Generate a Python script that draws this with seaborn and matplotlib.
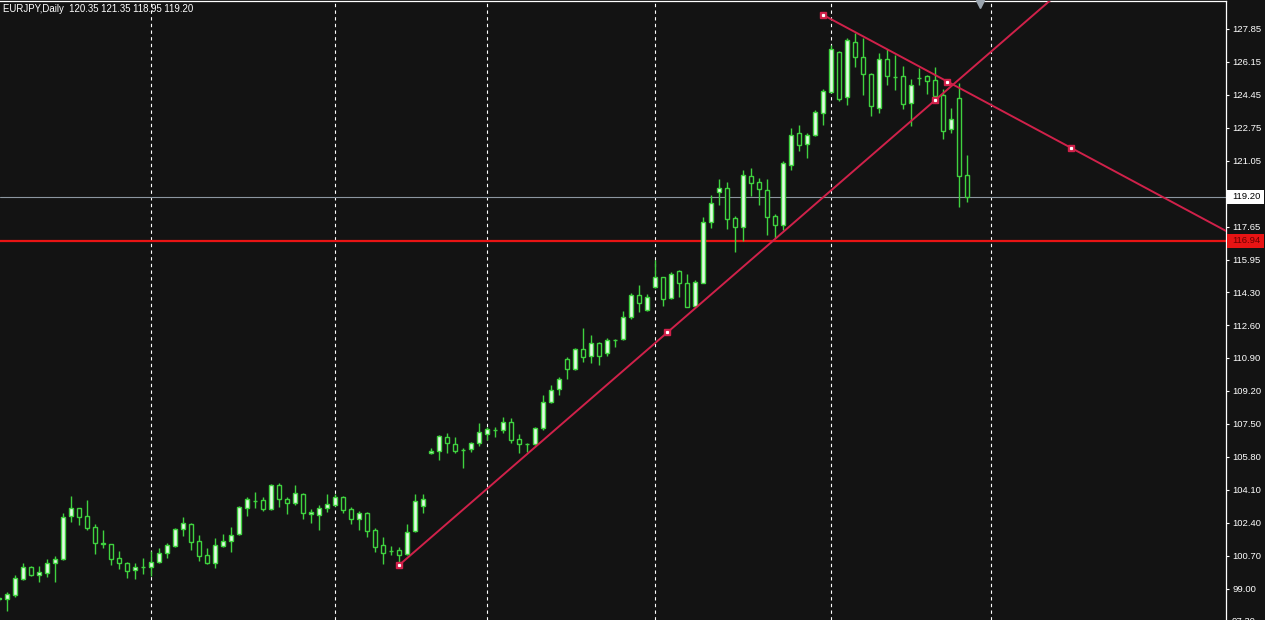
import numpy as np
import pandas as pd
import matplotlib
matplotlib.use("Agg")
import matplotlib.pyplot as plt
import seaborn as sns
from matplotlib.patches import Rectangle

# ---------------- data ----------------
symbol = "EURJPY,Daily"
opens = [98.50, 98.46, 98.69, 99.49, 100.11, 99.73, 99.84, 100.32, 100.56, 102.76,
         103.15, 102.76, 102.17, 101.37, 101.30, 100.58, 100.32, 99.97, 100.13, 100.11,
         100.40, 100.87, 101.23, 102.07, 102.35, 101.47, 100.75, 100.35, 101.23, 101.49,
         101.82, 103.16, 103.53, 103.58, 103.12, 104.36, 103.62, 103.41, 103.89, 102.85,
         102.81, 103.16, 103.33, 103.72, 103.10, 102.59, 102.93, 102.04, 101.27, 100.98,
         101.01, 100.80, 102.00, 103.28, 105.99, 106.13, 106.81, 106.45, 106.14, 106.20,
         106.50, 106.98, 107.18, 107.19, 107.62, 106.71, 106.46, 106.47, 107.28, 108.65,
         109.29, 110.83, 110.32, 111.35, 111.00, 111.69, 111.14, 111.82, 111.86, 112.99,
         114.15, 113.37, 114.54, 115.06, 113.97, 115.40, 114.78, 113.58, 114.78, 117.89,
         119.47, 119.64, 118.10, 117.63, 120.28, 119.99, 119.56, 118.22, 117.75, 120.84,
         122.51, 121.93, 122.39, 123.54, 124.62, 126.65, 124.36, 127.16, 126.39, 125.51,
         123.80, 126.29, 125.40, 125.43, 124.02, 125.35, 125.43, 125.22, 124.45, 122.68,
         124.28, 120.35]
highs = [98.60, 98.86, 99.72, 100.32, 100.18, 100.18, 100.52, 100.70, 102.94, 103.79,
         103.18, 103.58, 102.33, 102.04, 101.32, 100.97, 100.40, 100.32, 100.58, 100.97,
         101.09, 101.38, 102.12, 102.69, 102.41, 101.78, 101.09, 101.61, 101.83, 102.18,
         103.28, 103.72, 104.01, 103.72, 104.41, 104.48, 103.76, 104.36, 103.96, 103.10,
         103.33, 103.89, 103.89, 103.79, 103.24, 103.04, 102.98, 102.12, 101.66, 101.22,
         101.15, 102.35, 103.89, 103.89, 106.25, 106.93, 107.05, 106.85, 106.25, 106.59,
         107.57, 107.36, 107.36, 107.88, 107.79, 106.98, 106.54, 107.36, 108.99, 109.51,
         109.90, 110.93, 111.40, 112.43, 112.08, 111.74, 111.91, 111.86, 113.34, 114.27,
         114.66, 114.20, 115.95, 115.09, 115.35, 115.44, 115.23, 114.92, 118.18, 119.30,
         120.11, 119.99, 118.22, 120.59, 120.67, 120.16, 120.11, 118.32, 121.07, 122.73,
         122.90, 122.51, 123.70, 124.74, 127.03, 126.73, 127.37, 127.63, 127.37, 125.57,
         126.63, 126.80, 126.51, 125.94, 125.26, 125.82, 125.48, 125.88, 124.74, 123.76,
         125.09, 121.35]
lows = [98.40, 97.88, 98.60, 99.46, 99.67, 99.37, 99.63, 99.37, 100.49, 102.46,
        102.29, 102.04, 100.80, 101.09, 100.23, 100.01, 99.54, 99.51, 99.77, 99.67,
        100.32, 100.61, 101.18, 101.73, 101.01, 100.44, 100.30, 100.06, 101.15, 100.92,
        101.76, 102.76, 103.16, 103.04, 103.07, 103.21, 102.86, 103.33, 102.59, 102.42,
        102.04, 102.98, 103.28, 102.90, 102.35, 102.04, 101.70, 100.92, 100.29, 100.75,
        100.41, 100.75, 101.95, 102.93, 105.94, 105.65, 105.99, 105.99, 105.22, 106.07,
        106.37, 106.68, 106.85, 107.05, 106.54, 106.02, 106.07, 106.42, 107.19, 108.56,
        108.99, 109.80, 110.28, 110.71, 110.66, 110.54, 111.00, 111.48, 111.83, 112.89,
        113.29, 113.34, 114.49, 113.58, 113.92, 114.06, 113.51, 113.55, 114.75, 117.58,
        118.78, 117.53, 116.38, 116.95, 119.25, 118.78, 117.24, 117.07, 117.49, 120.59,
        121.58, 121.19, 122.34, 122.90, 124.54, 124.16, 123.94, 125.88, 124.45, 123.37,
        123.54, 124.97, 124.71, 123.73, 122.85, 124.97, 124.50, 124.33, 122.17, 122.51,
        118.66, 118.95]
closes = [98.52, 98.72, 99.54, 100.11, 99.72, 99.85, 100.32, 100.52, 102.72, 103.15,
          102.69, 102.12, 101.35, 101.33, 100.56, 100.32, 99.94, 100.15, 100.15, 100.40,
          100.87, 101.25, 102.07, 102.41, 101.44, 100.70, 100.34, 101.26, 101.47, 101.78,
          103.21, 103.62, 103.55, 103.10, 104.36, 103.62, 103.41, 103.93, 102.90, 102.98,
          103.16, 103.38, 103.72, 103.07, 102.59, 102.93, 102.00, 101.18, 100.87, 100.96,
          100.75, 101.95, 103.55, 103.62, 106.11, 106.88, 106.54, 106.13, 106.17, 106.50,
          107.10, 107.22, 107.20, 107.62, 106.68, 106.47, 106.48, 107.28, 108.65, 109.25,
          109.80, 110.32, 111.35, 110.93, 111.66, 111.00, 111.83, 111.84, 112.99, 114.15,
          113.72, 114.06, 115.09, 113.92, 115.23, 114.75, 113.55, 114.83, 117.93, 118.90,
          119.64, 118.05, 117.67, 120.33, 119.90, 119.59, 118.18, 117.75, 120.96, 122.39,
          121.87, 122.39, 123.59, 124.66, 126.80, 124.23, 127.28, 126.39, 125.51, 123.90,
          126.29, 125.43, 125.38, 123.99, 124.97, 125.34, 125.19, 124.40, 122.61, 123.20,
          120.28, 119.20]

# period separators (bar index)
separators = [19, 42, 61, 82, 104, 124]

# trendline anchors (bar index, price)
up_anchor_x = [50, 117]
up_anchor_y = [100.24, 124.19]
down_anchor_x = [103, 134]
down_anchor_y = [128.57, 121.72]

support_level = 116.94
bid_price = closes[-1]

ytick_values = [127.85, 126.15, 124.45, 122.75, 121.05, 117.65, 115.95, 114.30,
                112.60, 110.90, 109.20, 107.50, 105.80, 104.10, 102.40, 100.70, 99.00]

# ---------------- style ----------------
BG = "#131313"
GREEN = "#3fd23f"
BULL_FILL = "#e4fbe4"
CRIMSON = "#d0214a"
RED = "#e81414"

sns.set_theme(style="dark", rc={"axes.facecolor": BG, "figure.facecolor": BG,
                                "axes.edgecolor": "white", "axes.grid": False})
plt.rcParams["font.family"] = ["Liberation Sans", "DejaVu Sans"]

W, H = 1265, 620
fig = plt.figure(figsize=(W / 100, H / 100), dpi=100)
ax = fig.add_axes([0, 0, 1226 / W, 619 / H])
ax.set_facecolor(BG)

df = pd.DataFrame({"open": opens, "high": highs, "low": lows, "close": closes})
df["idx"] = np.arange(len(df))
df["bull"] = df["close"] >= df["open"]

# separators
for s in separators:
    ax.axvline(s, color="white", lw=0.8, ls=(0, (3, 3)), zorder=1)

# horizontal lines
ax.axhline(bid_price, color="#8c96a0", lw=0.8, zorder=1)
ax.axhline(support_level, color=RED, lw=1.6, zorder=2)

# wicks
ax.vlines(df["idx"], df["low"], df["high"], color=GREEN, lw=1.0, zorder=3)
# bodies
bottoms = np.minimum(df["open"], df["close"])
heights = np.abs(df["close"] - df["open"])
fills = np.where(df["bull"], BULL_FILL, BG)
ax.bar(df["idx"], heights, bottom=bottoms, width=0.5, color=fills,
       edgecolor=GREEN, linewidth=1.0, zorder=4)

# trendlines (rays extended from first anchor to the right)
xmin, xmax = 0.0875, 153.34
def ray(xs, ys, x_end):
    slope = (ys[1] - ys[0]) / (xs[1] - xs[0])
    return [xs[0], x_end], [ys[0], ys[0] + slope * (x_end - xs[0])]

ux, uy = ray(up_anchor_x, up_anchor_y, 170)
dx, dy = ray(down_anchor_x, down_anchor_y, 170)
sns.lineplot(x=ux, y=uy, ax=ax, color=CRIMSON, lw=1.4, zorder=5, estimator=None, sort=False)
sns.lineplot(x=dx, y=dy, ax=ax, color=CRIMSON, lw=1.4, zorder=5, estimator=None, sort=False)

for xs, ys in [(up_anchor_x, up_anchor_y), (down_anchor_x, down_anchor_y)]:
    mx = [xs[0], (xs[0] + xs[1]) / 2, xs[1]]
    my = [ys[0], (ys[0] + ys[1]) / 2, ys[1]]
    ax.plot(mx, my, ls="none", marker="s", ms=4.2, mfc=CRIMSON, mec=CRIMSON, zorder=6)
    ax.plot(mx, my, ls="none", marker="s", ms=1.3, mfc="white", mec="white", zorder=7)

ytop = 127.85 + 28 / 19.41
ybot = 127.85 - 591 / 19.41
ax.set_xlim(xmin, xmax)
ax.set_ylim(ybot, ytop)

# axes frame
for side in ["left", "bottom"]:
    ax.spines[side].set_visible(False)
for side in ["top", "right"]:
    ax.spines[side].set_color("white")
    ax.spines[side].set_linewidth(0.9)

ax.set_xticks([])
ax.yaxis.tick_right()
ax.set_yticks(ytick_values)
ax.set_yticklabels([f"{v:.2f}" for v in ytick_values])
ax.tick_params(axis="y", colors="white", labelcolor="white", length=2.5, width=0.8,
               pad=2, labelsize=6.8, right=True, left=False, direction="out")

ytr = ax.get_yaxis_transform()
# partially visible bottom label (cut by the window edge, as in the terminal)
ax.text(1 + 6 / 1226, 97.30, "97.30", transform=ytr, color="white", fontsize=6.8,
        va="center", ha="left", clip_on=False)

# price labels
box_h = 14 / 19.41
ax.add_patch(Rectangle((1 + 1 / 1226, bid_price - box_h / 2), 37 / 1226, box_h,
                       transform=ytr, facecolor="white", edgecolor="none",
                       clip_on=False, zorder=10))
ax.text(1 + 6 / 1226, bid_price, f"{bid_price:.2f}", transform=ytr, color="black",
        fontsize=6.8, va="center", ha="left", clip_on=False, zorder=11)
ax.add_patch(Rectangle((1 + 1 / 1226, support_level - box_h / 2), 37 / 1226, box_h,
                       transform=ytr, facecolor=RED, edgecolor="none",
                       clip_on=False, zorder=10))
ax.text(1 + 6 / 1226, support_level, f"{support_level:.2f}", transform=ytr,
        color="#6a0000", fontsize=6.8, va="center", ha="left", clip_on=False, zorder=11)

# chart shift marker
ax.plot([122.6], [127.85 + 25 / 19.41], marker="v", ms=6, color="#9aa4ae",
        clip_on=False, zorder=8)

# header text
fig.text(3 / W, 1 - 9.5 / H,
         f"{symbol}  {opens[-1]:.2f} {highs[-1]:.2f} {lows[-1]:.2f} {closes[-1]:.2f}",
         color="white", fontsize=6.9, va="center", ha="left")

fig.savefig("out.png", dpi=100, facecolor=BG)
